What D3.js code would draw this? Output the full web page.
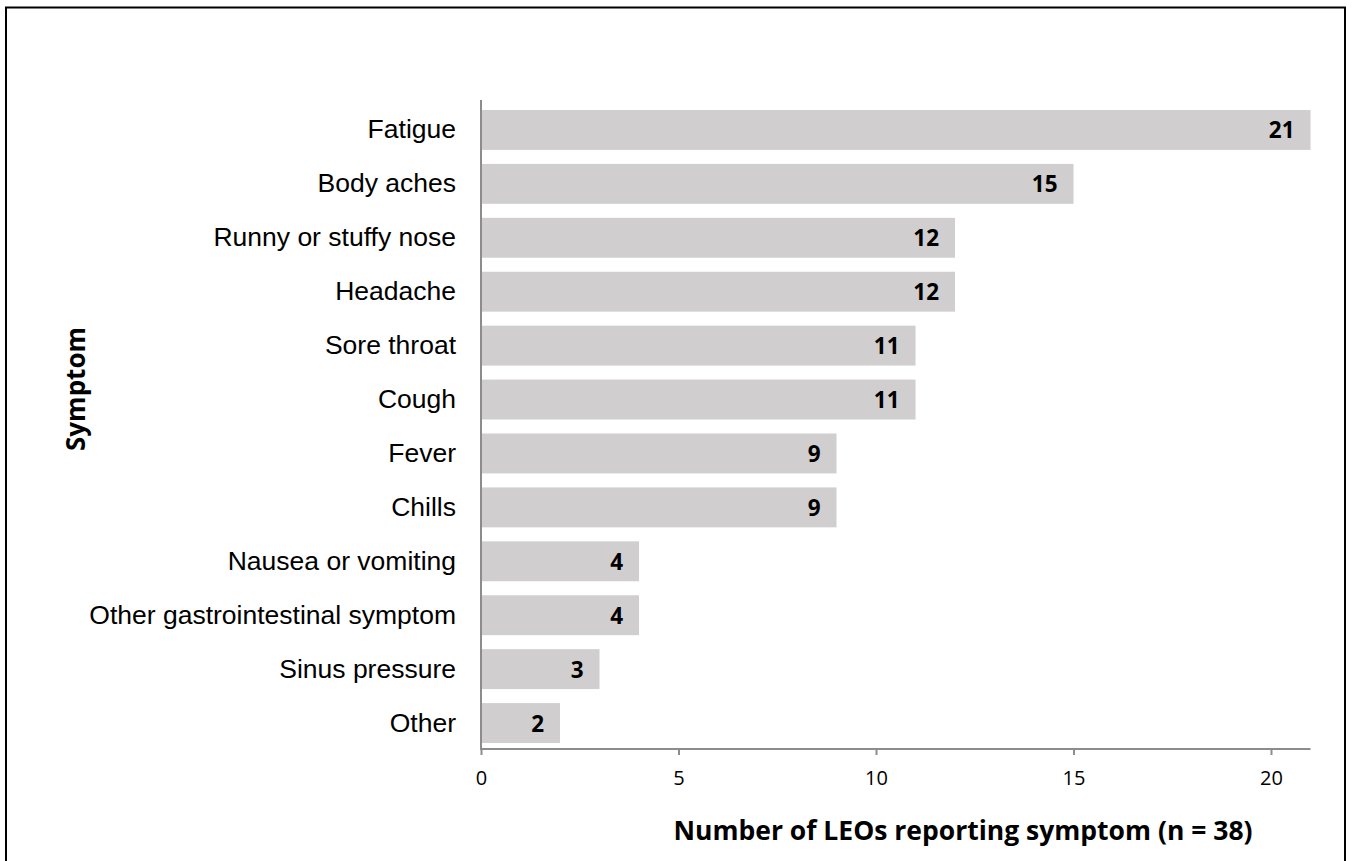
<!DOCTYPE html>
<html><head><meta charset="utf-8">
<script src="https://cdn.jsdelivr.net/npm/d3@7"></script>
<style>body{margin:0;background:#fff}svg{display:block}</style>
</head><body>
<script>
const categories = ["Fatigue","Body aches","Runny or stuffy nose","Headache","Sore throat","Cough","Fever","Chills","Nausea or vomiting","Other gastrointestinal symptom","Sinus pressure","Other"];
const values = [21,15,12,12,11,11,9,9,4,4,3,2];
const xTicks = [0,5,10,15,20];
const xTitle = "Number of LEOs reporting symptom (n = 38)";
const yTitle = "Symptom";

const W = 1352, H = 861;
const svg = d3.select("body").append("svg").attr("width", W).attr("height", H);
const font = "'Open Sans', 'Noto Sans', sans-serif";
const labelFont = "'Liberation Sans', Arial, sans-serif";

svg.append("rect").attr("x",6).attr("y",7.5).attr("width",1339).attr("height",870)
  .attr("fill","none").attr("stroke","#000").attr("stroke-width",2);

const x = d3.scaleLinear().domain([0,21]).range([481,1310.5]);
const y = d3.scaleBand().domain(categories).range([103,750]).paddingInner(0.26).paddingOuter(0.13);

svg.append("g").selectAll("rect").data(categories).join("rect")
  .attr("x", x(0)).attr("y", d => y(d)).attr("height", y.bandwidth())
  .attr("width", (d,i) => x(values[i]) - x(0)).attr("fill", "#d0cece");

svg.append("g").selectAll("text").data(categories).join("text")
  .attr("x", (d,i) => x(values[i]) - 16).attr("y", d => y(d) + y.bandwidth()/2)
  .attr("text-anchor","end").attr("dominant-baseline","central")
  .attr("font-family", font).attr("font-weight","bold").attr("font-size",22.5).attr("fill","#000")
  .text((d,i) => values[i]);

// y axis
const ya = svg.append("g").attr("transform", `translate(${x(0)},0)`)
  .call(d3.axisLeft(y).tickSize(0).tickPadding(25));
ya.select(".domain").attr("stroke","#8c8c8c").attr("stroke-width",2).attr("d","M0,100V750");
ya.selectAll("text").attr("font-family", labelFont).attr("font-size",26.5).attr("fill","#000");

// x axis
const xa = svg.append("g").attr("transform", `translate(0,749)`)
  .call(d3.axisBottom(x).tickValues(xTicks).tickSize(6).tickPadding(16).tickSizeOuter(0));
xa.select(".domain").attr("stroke","#8c8c8c").attr("stroke-width",2).attr("d",`M${x(0)},0H${x(21)}`);
xa.selectAll(".tick line").attr("stroke","#8c8c8c").attr("stroke-width",2);
xa.selectAll("text").attr("font-family", font).attr("font-size",20).attr("fill","#000");

svg.append("text").attr("x", 963).attr("y", 840).attr("text-anchor","middle")
  .attr("font-family", font).attr("font-weight","bold").attr("font-size",26.5).attr("fill","#000")
  .text(xTitle);

svg.append("text").attr("transform","translate(85,389) rotate(-90)").attr("text-anchor","middle")
  .attr("font-family", font).attr("font-weight","bold").attr("font-size",26).attr("fill","#000")
  .text(yTitle);
</script>
</body></html>
